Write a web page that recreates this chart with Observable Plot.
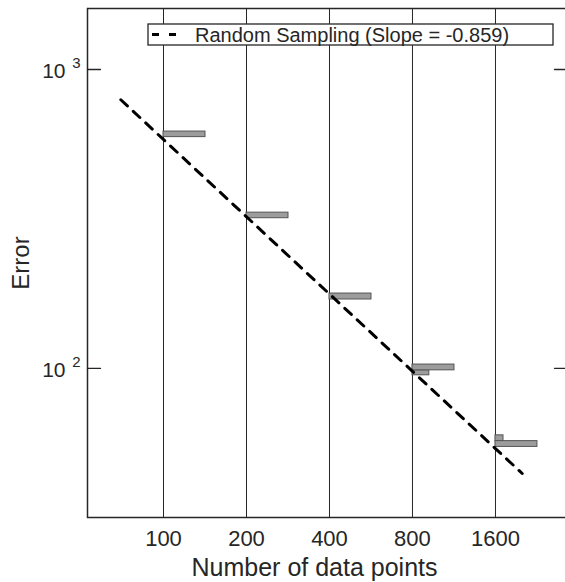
<!DOCTYPE html>
<html>
<head>
<meta charset="utf-8">
<script src="https://cdn.jsdelivr.net/npm/d3@7"></script>
<script src="https://cdn.jsdelivr.net/npm/@observablehq/plot@0.6"></script>
<style>
  html, body { margin: 0; padding: 0; background: #fff; overflow: hidden; }
  #chart { width: 565px; height: 582px; }
</style>
</head>
<body>
<div id="chart"></div>
<script>
// ---- data ----
const xTicks = [100, 200, 400, 800, 1600];
const xTickLabels = ["100", "200", "400", "800", "1600"];
const yTicks = [100, 1000];
const yTickBase = ["10", "10"];
const yTickExp = ["2", "3"];

// error distribution bars (main band)
const barN = [100, 200, 400, 800, 1600];
const barEnd = [142, 284, 568, 1136, 2272];
const barLow = [594, 318, 170, 98.5, 54.6];
const barHigh = [620, 332, 178, 103, 57.1];

// small step pieces at the left of some bars
const stepN = [800, 1600];
const stepEnd = [921, 1711];
const stepLow = [94.8, 57.1];
const stepHigh = [98.5, 59.7];

// fitted line (Random Sampling, slope -0.859)
const fitN = [70, 2000];
const fitErr = [792, 44.5];

const xTitle = "Number of data points";
const yTitle = "Error";
const legendLabel = "Random Sampling (Slope = -0.859)";

const ink = "#262626";
const font = "'Liberation Sans', Arial, Helvetica, sans-serif";

const bars = barN.map((n, i) => ({x1: n, x2: barEnd[i], y1: barLow[i], y2: barHigh[i]}));
const steps = stepN.map((n, i) => ({x1: n, x2: stepEnd[i], y1: stepLow[i], y2: stepHigh[i]}));
const fit = fitN.map((n, i) => ({n, e: fitErr[i]}));

const tickLeft = {draw(ctx, l) { ctx.moveTo(0, 0); ctx.lineTo(l, 0); }};
const tickRight = {draw(ctx, l) { ctx.moveTo(0, 0); ctx.lineTo(-l, 0); }};

const chart = Plot.plot({
  width: 565,
  height: 582,
  marginLeft: 87,
  marginRight: -2,
  marginTop: 8,
  marginBottom: 65,
  style: {fontFamily: font, color: ink, background: "white"},
  x: {type: "log", domain: [53, 2920], axis: null},
  y: {type: "log", domain: [31.7, 1600], axis: null},
  marks: [
    Plot.ruleX(xTicks, {x: d => d, stroke: ink, strokeWidth: 1}),
    Plot.rect(steps, {x1: "x1", x2: "x2", y1: "y1", y2: "y2", fill: "#9c9c9c", stroke: "#555", strokeWidth: 1}),
    Plot.rect(bars, {x1: "x1", x2: "x2", y1: "y1", y2: "y2", fill: "#9c9c9c", stroke: "#555", strokeWidth: 1}),
    Plot.line(fit, {x: "n", y: "e", stroke: "black", strokeWidth: 3, strokeDasharray: "9,8"}),
    Plot.vector(yTicks, {y: d => d, frameAnchor: "left", length: 13, anchor: "start", shape: tickLeft, stroke: ink, strokeWidth: 1.3}),
    Plot.vector(yTicks, {y: d => d, frameAnchor: "right", length: 13, anchor: "start", shape: tickRight, stroke: ink, strokeWidth: 1.3}),
    Plot.frame({stroke: ink, strokeWidth: 1.5}),
    Plot.text(xTicks, {x: d => d, frameAnchor: "bottom", dy: 21, text: (d, i) => xTickLabels[i], fontSize: 22, fill: ink, textAnchor: "middle", lineAnchor: "middle"}),
    Plot.text(yTicks, {y: d => d, frameAnchor: "left", dx: -22, dy: 2, text: (d, i) => yTickBase[i], fontSize: 21, fill: ink, textAnchor: "end", lineAnchor: "middle"}),
    Plot.text(yTicks, {y: d => d, frameAnchor: "left", dx: -7, dy: -6, text: (d, i) => yTickExp[i], fontSize: 15, fill: ink, textAnchor: "end", lineAnchor: "middle"}),
    Plot.text([xTitle], {frameAnchor: "bottom", dx: -13, dy: 50, text: d => d, fontSize: 25, fill: ink, textAnchor: "middle", lineAnchor: "middle"}),
    Plot.text([yTitle], {frameAnchor: "left", dx: -66, rotate: -90, text: d => d, fontSize: 24, fill: ink, textAnchor: "middle", lineAnchor: "middle"})
  ]
});

document.getElementById("chart").appendChild(chart);

// legend inside the axes (top right)
const svg = d3.select(chart);
const lg = svg.append("g").attr("class", "legend");
lg.append("rect").attr("x", 148).attr("y", 24).attr("width", 405).attr("height", 21)
  .attr("fill", "white").attr("stroke", ink).attr("stroke-width", 1.3);
lg.append("line").attr("x1", 152).attr("x2", 176).attr("y1", 34.5).attr("y2", 34.5)
  .attr("stroke", "black").attr("stroke-width", 3).attr("stroke-dasharray", "7,10");
lg.append("text").attr("x", 195).attr("y", 34.5).attr("dy", "0.35em")
  .attr("text-anchor", "start")
  .attr("font-size", 20).attr("fill", ink).attr("font-family", font).text(legendLabel);
</script>
</body>
</html>
